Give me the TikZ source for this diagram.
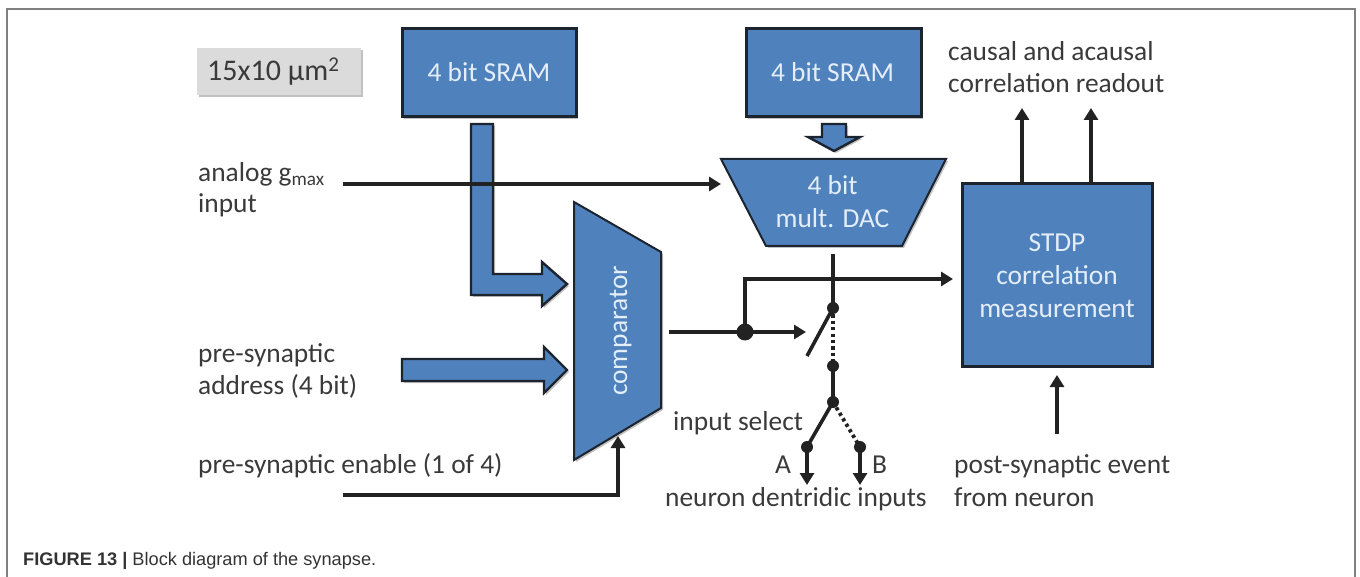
\documentclass[tikz,border=0pt]{standalone}
\usepackage{fontspec}
\setmainfont{Carlito}
\newfontfamily\capfont{Liberation Sans}
\usetikzlibrary{arrows.meta,shadows,calc}
\definecolor{blk}{HTML}{4F81BD}
\definecolor{txt}{HTML}{3A3A3A}
\definecolor{ltxt}{HTML}{E4EEF8}
\definecolor{lne}{HTML}{222222}
\definecolor{edge}{HTML}{1C2430}
\tikzset{
  softshadow/.style={drop shadow={shadow xshift=2pt,shadow yshift=-2pt,opacity=.35,fill=black!70}},
  solidblock/.style={fill=blk,draw=edge,line width=3pt,sharp corners,softshadow,inner sep=0pt},
  thinblock/.style={fill=blk,draw=edge,line width=2pt,line join=miter,softshadow},
  wire/.style={draw=lne,line width=3.6pt},
  arrowwire/.style={wire,-{Triangle[width=14pt,length=12pt]}},
  dotwire/.style={draw=lne,line width=3.8pt,dash pattern=on 3.2pt off 3.2pt},
  jun/.style={circle,fill=lne,inner sep=0pt,minimum size=12pt},
  bigjun/.style={circle,fill=lne,inner sep=0pt,minimum size=17pt},
  lbl/.style={anchor=base west,text=txt,inner sep=0pt,font=\fontsize{27.4}{30}\selectfont},
  blbl/.style={anchor=base,text=ltxt,inner sep=0pt,font=\fontsize{27.4}{30}\selectfont},
}
\begin{document}
\begin{tikzpicture}[x=1pt,y=-1pt]
\useasboundingbox (0,0) rectangle (1360,577);
% frame
\coordinate (fa) at (7,577); \coordinate (fb) at (7,9); \coordinate (fc) at (1355,9); \coordinate (fd) at (1355,577);
\draw[draw=black!50,line width=2pt] (fa) -- (fb) -- (fc) -- (fd);
% size box
\node[fill=black!14,draw=none,minimum width=164pt,minimum height=47pt,inner sep=0pt,softshadow] (size) at (279,71.5) {};
\node[lbl,font=\fontsize{30}{32}\selectfont] (sizet) at (207,81) {15x10 µm\textsuperscript{2}};
% blocks
\node[solidblock,minimum width=174pt,minimum height=88pt] (sram1) at (489,73) {};
\node[solidblock,minimum width=175pt,minimum height=88pt] (sram2) at (833.5,73) {};
\node[solidblock,minimum width=190pt,minimum height=182pt] (stdp) at (1057,275) {};
\coordinate (dtl) at (721,159); \coordinate (dtr) at (946,159); \coordinate (dbr) at (902,246); \coordinate (dbl) at (766,246);
\draw[thinblock] (dtl) -- (dtr) -- (dbr) -- (dbl) -- cycle;
\coordinate (ctl) at (574,202); \coordinate (ctr) at (661,252); \coordinate (cbr) at (661,408); \coordinate (cbl) at (574,460);
\draw[thinblock] (ctl) -- (ctr) -- (cbr) -- (cbl) -- cycle;
% block arrows
\draw[thinblock,line width=2.4pt] (471,124) -- (493,124) -- (493,274) -- (542,274) -- (542,262) -- (567,284) -- (542,306) -- (542,295) -- (471,295) -- cycle;
\draw[thinblock,line width=2.4pt] (402,359) -- (544,359) -- (544,347) -- (567,370) -- (544,393) -- (544,381) -- (402,381) -- cycle;
\draw[thinblock,line width=2.4pt] (822,124) -- (846,124) -- (846,137) -- (860,137) -- (834,151) -- (808,137) -- (822,137) -- cycle;
% named connector ends
\coordinate (analog) at (343,184);
\coordinate (dacin) at (721,184);
\coordinate (rd1) at (1022,184); \coordinate (rd1e) at (1022,108);
\coordinate (rd2) at (1091,184); \coordinate (rd2e) at (1091,108);
\coordinate (dacout) at (833,254);
\coordinate (cmpout) at (669,332);
\coordinate (swin) at (806,332);
\coordinate (corner) at (745,279);
\coordinate (stdpin) at (953,279);
\coordinate (swfree) at (807,356);
\coordinate (en) at (343,495); \coordinate (enc) at (618,495); \coordinate (ene) at (618,436);
\coordinate (post) at (1057,434); \coordinate (poste) at (1057,375);
\coordinate (ae) at (807,485); \coordinate (be) at (860,485);
% junctions
\node[bigjun] (j0) at (745,332) {};
\node[jun] (j1) at (833,308) {};
\node[jun] (j2) at (833,366) {};
\node[jun] (j3) at (833,402) {};
\node[jun] (ja) at (807,447) {};
\node[jun] (jb) at (860,447) {};
% wires
\draw[arrowwire] (analog) -- (dacin);
\draw[arrowwire] (rd1) -- (rd1e);
\draw[arrowwire] (rd2) -- (rd2e);
\draw[wire] (dacout) -- (j1.center);
\draw[arrowwire] (j0.center) -- (corner) -- (stdpin);
\draw[arrowwire] (cmpout) -- (swin);
\draw[wire] (j1.center) -- (swfree);
\draw[dotwire] (j1.center) -- (j2.center);
\draw[wire] (j2.center) -- (j3.center);
\draw[wire] (j3.center) -- (ja.center);
\draw[dotwire] (j3.center) -- (jb.center);
\draw[arrowwire] (ja.center) -- (ae);
\draw[arrowwire] (jb.center) -- (be);
\draw[arrowwire] (en) -- (enc) -- (ene);
\draw[arrowwire] (post) -- (poste);
% block labels
\node[blbl] (t1) at (489,81.5) {4 bit SRAM};
\node[blbl] (t2) at (832.5,81.5) {4 bit SRAM};
\node[blbl] (t3) at (832.5,195) {4 bit};
\node[blbl] (t4) at (832.5,228) {mult. DAC};
\node[blbl] (t5) at (1057,252) {STDP};
\node[blbl] (t6) at (1057,284.5) {correlation};
\node[blbl] (t7) at (1057,317) {measurement};
\node[text=ltxt,inner sep=0pt,rotate=90,anchor=base,font=\fontsize{27.4}{30}\selectfont] (t8) at (627,331) {comparator};
% labels
\node[lbl] (l1) at (198,182) {analog g\textsubscript{max}};
\node[lbl] (l2) at (198,213) {input};
\node[lbl] (l3) at (198,362) {pre-synaptic};
\node[lbl] (l4) at (198,394) {address (4 bit)};
\node[lbl] (l5) at (198,473) {pre-synaptic enable (1 of 4)};
\node[lbl] (l6) at (948,61) {causal and acausal};
\node[lbl] (l7) at (948,93) {correlation readout};
\node[lbl] (l8) at (673,430) {input select};
\node[lbl] (l9) at (775,473) {A};
\node[lbl] (l10) at (872,473) {B};
\node[lbl] (l11) at (665,506) {neuron dentridic inputs};
\node[lbl] (l12) at (954,473) {post-synaptic event};
\node[lbl] (l13) at (954,506) {from neuron};
\node[anchor=base west,inner sep=0pt,text=black!80,font=\capfont\fontsize{18.2}{22}\selectfont] (cap) at (23,565) {\textbf{FIGURE 13 |} Block diagram of the synapse.};
\end{tikzpicture}
\end{document}
